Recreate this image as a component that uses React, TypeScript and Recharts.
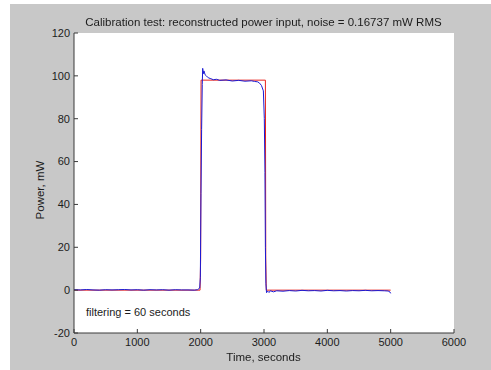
import { LineChart, Line, XAxis, YAxis, CartesianGrid } from 'recharts';

const xTicks = [0, 1000, 2000, 3000, 4000, 5000, 6000];
const yTicks = [-20, 0, 20, 40, 60, 80, 100, 120];

// actual power applied to the heater
const inputPower = [
  { t: 0, p: 0 },
  { t: 1990, p: 0 },
  { t: 2000, p: 15 },
  { t: 2006, p: 98 },
  { t: 3022, p: 98 },
  { t: 3028, p: 15 },
  { t: 3036, p: 0 },
  { t: 5000, p: 0 },
];

// reconstructed power from the sensor
const reconstructed = [
  { t: 0, p: 0.2 }, { t: 100, p: 0.1 }, { t: 200, p: 0.3 }, { t: 300, p: 0.1 },
  { t: 400, p: 0.0 }, { t: 500, p: 0.2 }, { t: 600, p: 0.1 }, { t: 700, p: 0.2 },
  { t: 800, p: 0.3 }, { t: 900, p: 0.1 }, { t: 1000, p: 0.2 }, { t: 1100, p: 0.0 },
  { t: 1200, p: 0.2 }, { t: 1300, p: 0.1 }, { t: 1400, p: 0.2 }, { t: 1500, p: 0.0 },
  { t: 1600, p: 0.2 }, { t: 1700, p: 0.1 }, { t: 1800, p: 0.1 }, { t: 1900, p: 0.0 },
  { t: 1950, p: 0.2 }, { t: 1985, p: 1 }, { t: 1995, p: 6 }, { t: 2005, p: 45 },
  { t: 2015, p: 75 }, { t: 2025, p: 96 }, { t: 2032, p: 103.5 }, { t: 2042, p: 101 },
  { t: 2052, p: 102.3 }, { t: 2070, p: 100.5 }, { t: 2090, p: 100 }, { t: 2120, p: 99.1 },
  { t: 2150, p: 98.8 }, { t: 2200, p: 98.2 }, { t: 2250, p: 98.4 }, { t: 2300, p: 97.9 },
  { t: 2400, p: 98.1 }, { t: 2500, p: 97.6 }, { t: 2600, p: 97.9 }, { t: 2700, p: 97.5 },
  { t: 2800, p: 97.7 }, { t: 2850, p: 97.4 }, { t: 2900, p: 97.2 }, { t: 2930, p: 96.6 },
  { t: 2960, p: 95.5 }, { t: 2990, p: 93 }, { t: 3005, p: 80 }, { t: 3015, p: 55 },
  { t: 3022, p: 20 }, { t: 3030, p: 3 }, { t: 3040, p: -1.2 }, { t: 3060, p: -0.5 },
  { t: 3080, p: -1.1 }, { t: 3100, p: -0.3 }, { t: 3150, p: -0.8 }, { t: 3200, p: -0.3 },
  { t: 3300, p: -0.5 }, { t: 3400, p: -0.2 }, { t: 3500, p: -0.4 }, { t: 3600, p: -0.1 },
  { t: 3700, p: -0.3 }, { t: 3800, p: -0.2 }, { t: 3900, p: -0.4 }, { t: 4000, p: -0.1 },
  { t: 4100, p: -0.3 }, { t: 4200, p: -0.2 }, { t: 4300, p: -0.4 }, { t: 4400, p: -0.2 },
  { t: 4500, p: -0.3 }, { t: 4600, p: -0.1 }, { t: 4700, p: -0.3 }, { t: 4800, p: -0.2 },
  { t: 4900, p: -0.3 }, { t: 4960, p: -0.4 }, { t: 4990, p: -0.9 }, { t: 5000, p: -1.5 },
];

const font = '"Liberation Sans", Arial, sans-serif';
const ink = '#1c1c1c';
const axisColor = '#3a3a3a';
const TM = 4;

const BottomTick = ({ x, y, payload }: any) => (
  <g>
    <line x1={x} x2={x} y1={y - TM} y2={y - TM - 4} stroke={axisColor} />
    <text x={x} y={y + 1} dy="0.71em" textAnchor="middle" fontSize={11} fontFamily={font} fill={ink}>
      {payload.value}
    </text>
  </g>
);

const LeftTick = ({ x, y, payload }: any) => (
  <g>
    <line x1={x + TM} x2={x + TM + 4} y1={y} y2={y} stroke={axisColor} />
    <text x={x} y={y} dy="0.355em" textAnchor="end" fontSize={11} fontFamily={font} fill={ink}>
      {payload.value}
    </text>
  </g>
);

const TopTick = ({ x, y }: any) => (
  <line x1={x} x2={x} y1={y} y2={y + 4} stroke={axisColor} />
);

const RightTick = ({ x, y }: any) => (
  <line x1={x} x2={x - 4} y1={y} y2={y} stroke={axisColor} />
);

export default function App() {
  return (
    <div style={{ position: 'fixed', left: 0, top: 0, width: 491, height: 370, background: '#fff' }}>
      <div style={{ position: 'absolute', left: 10, top: 4, width: 481, height: 366, background: '#c8c8c8' }} />
      <div style={{ position: 'absolute', left: 0, top: 0 }}>
        <LineChart width={491} height={370} margin={{ top: 33, right: 37, bottom: 7, left: 14 }}>
          <CartesianGrid xAxisId="b" yAxisId="l" horizontal={false} vertical={false} fill="#ffffff" />
          <XAxis
            xAxisId="b" type="number" dataKey="t" domain={[0, 6000]} ticks={xTicks}
            height={30} tickSize={0} tickMargin={TM} tickLine={false}
            axisLine={{ stroke: axisColor }} tick={<BottomTick />} interval={0}
          />
          <XAxis
            xAxisId="top" orientation="top" type="number" domain={[0, 6000]} ticks={xTicks}
            height={0} tickSize={0} tickMargin={0} tickLine={false}
            axisLine={{ stroke: axisColor }} tick={<TopTick />} interval={0}
          />
          <YAxis
            yAxisId="l" type="number" domain={[-20, 120]} ticks={yTicks}
            width={60} tickSize={0} tickMargin={TM} tickLine={false}
            axisLine={{ stroke: axisColor }} tick={<LeftTick />} interval={0}
          />
          <YAxis
            yAxisId="r" orientation="right" type="number" domain={[-20, 120]} ticks={yTicks}
            width={0} tickSize={0} tickMargin={0} tickLine={false}
            axisLine={{ stroke: axisColor }} tick={<RightTick />} interval={0}
          />
          <Line
            xAxisId="b" yAxisId="l" data={inputPower} dataKey="p" type="linear"
            stroke="#e8231c" strokeWidth={1} dot={false} isAnimationActive={false}
          />
          <Line
            xAxisId="b" yAxisId="l" data={reconstructed} dataKey="p" type="linear"
            stroke="#1a1ad4" strokeWidth={1} dot={false} isAnimationActive={false}
          />
          <text x={86} y={312} dy="0.355em" fontSize={11} fontFamily={font} fill={ink}>
            filtering = 60 seconds
          </text>
        </LineChart>
      </div>
      <div style={{ position: 'absolute', left: 0, width: 527, top: 14, textAlign: 'center', fontSize: 11.5, fontFamily: font, color: ink, lineHeight: '16px' }}>
        Calibration test: reconstructed power input, noise = 0.16737 mW RMS
      </div>
      <div style={{ position: 'absolute', left: 0, width: 527, top: 349, textAlign: 'center', fontSize: 11.5, fontFamily: font, color: ink, lineHeight: '16px' }}>
        Time, seconds
      </div>
      <div style={{ position: 'absolute', left: 40, top: 190, width: 0, height: 0 }}>
        <div style={{ position: 'absolute', left: -50, top: -8, width: 100, textAlign: 'center', transform: 'rotate(-90deg)', fontSize: 11.5, fontFamily: font, color: ink, lineHeight: '16px' }}>
          Power, mW
        </div>
      </div>
    </div>
  );
}
